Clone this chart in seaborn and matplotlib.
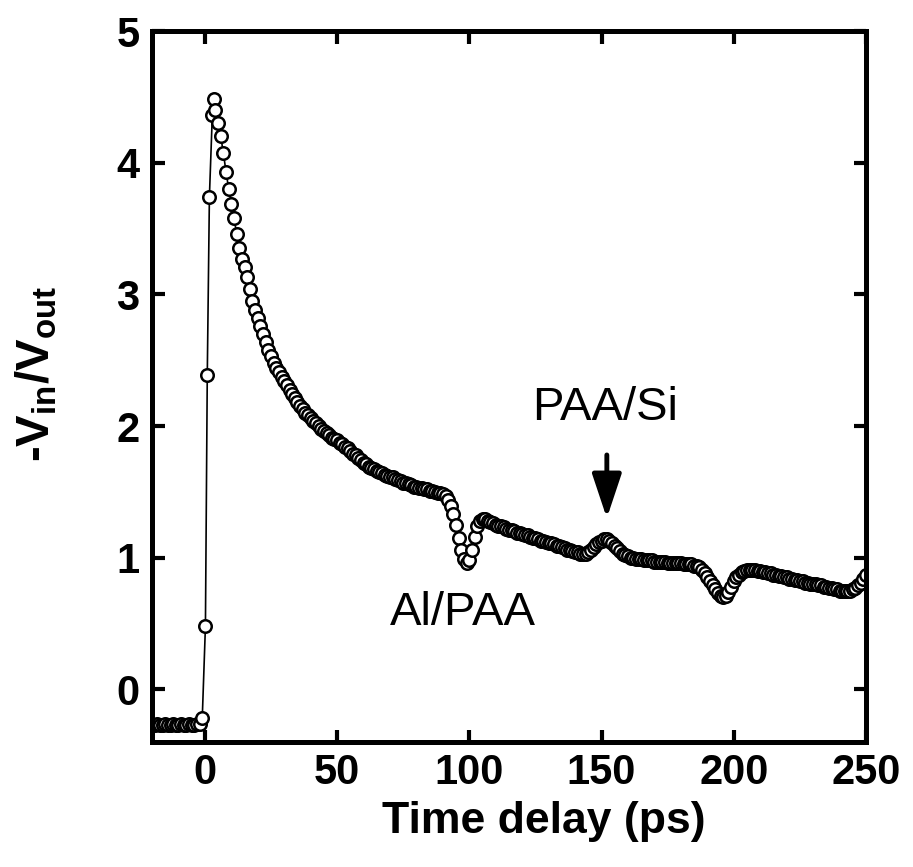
import numpy as np
import matplotlib
matplotlib.use('Agg')
import matplotlib.pyplot as plt
import seaborn as sns

# baseline before the pulse (t = -20 ... -1 ps)
t_base = np.arange(-20, 0)
v_base = [-0.27, -0.27, -0.26, -0.27, -0.27, -0.26, -0.27, -0.27, -0.26, -0.27,
          -0.27, -0.26, -0.27, -0.27, -0.26, -0.27, -0.27, -0.26, -0.26, -0.22]

# fast rise
t_rise = [0.2, 0.9, 1.7, 2.8, 3.6]
v_rise = [0.48, 2.39, 3.74, 4.36, 4.48]

# decay, t = 4 ... 250 ps, 1 ps steps
t_decay = np.arange(4, 251)
v_decay = [
    4.40, 4.30, 4.20, 4.07, 3.93, 3.80, 3.69, 3.58, 3.46, 3.35,   # 4-13
    3.27, 3.21, 3.13, 3.04, 2.95, 2.88, 2.82, 2.76, 2.70, 2.64,   # 14-23
    2.58, 2.53, 2.48, 2.44, 2.41, 2.37, 2.34, 2.31, 2.27, 2.24,   # 24-33
    2.21, 2.18, 2.15, 2.13, 2.10, 2.08, 2.06, 2.04, 2.02, 2.00,   # 34-43
    1.98, 1.96, 1.95, 1.93, 1.91, 1.90, 1.89, 1.87, 1.86, 1.84,   # 44-53
    1.83, 1.81, 1.79, 1.78, 1.76, 1.74, 1.72, 1.71, 1.69, 1.68,   # 54-63
    1.67, 1.66, 1.65, 1.64, 1.63, 1.62, 1.61, 1.61, 1.60, 1.59,   # 64-73
    1.58, 1.57, 1.57, 1.56, 1.55, 1.54, 1.54, 1.53, 1.53, 1.52,   # 74-83
    1.52, 1.51, 1.51, 1.50, 1.49, 1.49, 1.48, 1.47, 1.44, 1.39,   # 84-93
    1.33, 1.25, 1.15, 1.06, 0.99, 0.96, 0.98, 1.06, 1.16, 1.24,   # 94-103
    1.28, 1.29, 1.29, 1.28, 1.27, 1.26, 1.25, 1.24, 1.24, 1.23,   # 104-113
    1.22, 1.21, 1.21, 1.20, 1.19, 1.19, 1.18, 1.17, 1.17, 1.16,   # 114-123
    1.15, 1.15, 1.14, 1.13, 1.13, 1.12, 1.11, 1.11, 1.10, 1.09,   # 124-133
    1.09, 1.08, 1.07, 1.06, 1.06, 1.05, 1.04, 1.04, 1.03, 1.03,   # 134-143
    1.03, 1.04, 1.06, 1.08, 1.10, 1.12, 1.13, 1.14, 1.14, 1.13,   # 144-153
    1.11, 1.09, 1.07, 1.05, 1.03, 1.02, 1.01, 1.00, 1.00, 0.99,   # 154-163
    0.99, 0.99, 0.98, 0.98, 0.98, 0.98, 0.97, 0.97, 0.97, 0.97,   # 164-173
    0.97, 0.96, 0.96, 0.96, 0.96, 0.96, 0.96, 0.95, 0.95, 0.95,   # 174-183
    0.95, 0.94, 0.94, 0.93, 0.91, 0.88, 0.85, 0.82, 0.79, 0.76,   # 184-193
    0.73, 0.71, 0.70, 0.71, 0.74, 0.78, 0.82, 0.85, 0.87, 0.89,   # 194-203
    0.90, 0.91, 0.91, 0.91, 0.91, 0.90, 0.90, 0.89, 0.89, 0.88,   # 204-213
    0.88, 0.87, 0.87, 0.86, 0.86, 0.85, 0.85, 0.84, 0.84, 0.83,   # 214-223
    0.83, 0.82, 0.82, 0.81, 0.81, 0.80, 0.80, 0.80, 0.79, 0.79,   # 224-233
    0.78, 0.78, 0.77, 0.77, 0.76, 0.76, 0.75, 0.75, 0.75, 0.75,   # 234-243
    0.75, 0.76, 0.77, 0.79, 0.81, 0.84, 0.87,                     # 244-250
]

t_all = np.concatenate([t_base, t_rise, t_decay])
v_all = np.concatenate([v_base, v_rise, v_decay])

sns.set_style('ticks')
plt.rcParams['font.family'] = ['Liberation Sans', 'DejaVu Sans']
plt.rcParams['text.color'] = 'black'
plt.rcParams['axes.labelcolor'] = 'black'
plt.rcParams['mathtext.fontset'] = 'custom'
plt.rcParams['mathtext.rm'] = 'Liberation Sans'

fig = plt.figure(figsize=(9.13, 8.67), dpi=100)
ax = fig.add_axes([0.1665, 0.1442, 0.782, 0.820])

sns.lineplot(x=t_all, y=v_all, ax=ax, estimator=None, sort=False,
             color='black', linewidth=1.2, marker='o', markersize=9,
             markerfacecolor='white', markeredgecolor='black', markeredgewidth=1.8)

ax.set_xlim(-20, 250)
ax.set_ylim(-0.4, 5)
ax.set_xticks([0, 50, 100, 150, 200, 250])
ax.set_yticks([0, 1, 2, 3, 4, 5])

for s in ax.spines.values():
    s.set_visible(True)
    s.set_linewidth(3.6)
    s.set_color('black')
ax.tick_params(direction='in', length=9, width=3, top=True, right=True,
               labelsize=30, colors='black')
ax.tick_params(axis='x', pad=8)
ax.tick_params(axis='y', pad=9)
for lab in ax.get_xticklabels() + ax.get_yticklabels():
    lab.set_fontweight('bold')

ax.set_xlabel('Time delay (ps)', fontsize=32, fontweight='bold', color='black')
ax.xaxis.set_label_coords(0.549, -0.083)
ax.set_ylabel(r'-V$_{\mathregular{in}}$/V$_{\mathregular{out}}$',
              fontsize=34, fontweight='bold', color='black')
ax.yaxis.set_label_coords(-0.129, 0.518)

ax.text(151.5, 2.14, 'PAA/Si', fontsize=34, ha='center', va='center', color='black')
ax.text(97.7, 0.58, 'Al/PAA', fontsize=34, ha='center', va='center', color='black')
ax.annotate('', xy=(152, 1.30), xytext=(152, 1.78),
            arrowprops=dict(arrowstyle='-|>,head_length=1.35,head_width=0.45',
                            mutation_scale=20, lw=3.5, color='black',
                            shrinkA=0, shrinkB=0))

fig.savefig('out.png', dpi=100)
